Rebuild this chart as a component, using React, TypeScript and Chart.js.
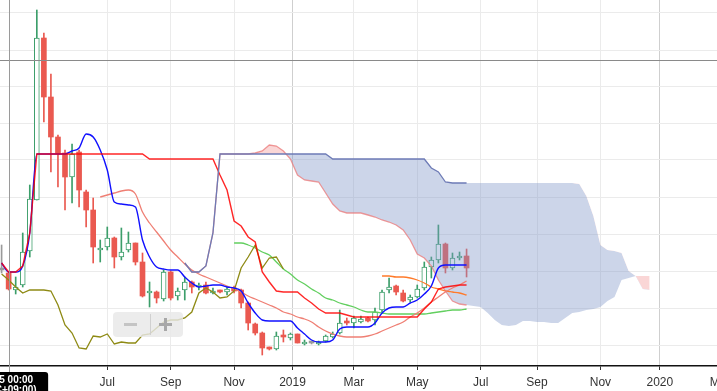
import React, { useEffect, useRef } from "react";
import { Chart, registerables } from "chart.js";

Chart.register(...registerables);
Chart.defaults.font.family = "'Liberation Sans', Arial, sans-serif";

// Weekly candles; week 0 = week starting Sunday 2018-03-18
const opens = [13.0, 12.7, 11.0, 11.5, 14.9, 20.0, 36.2, 30.3, 26.3, 24.7, 22.3, 24.8, 20.8, 19.0, 15.0, 15.3, 16.2, 14.3, 15.0, 15.7, 13.8, 10.7, 10.8, 10.1, 12.8, 10.4, 11.0, 11.8, 11.3, 11.5, 10.7, 10.9, 10.8, 11.2, 11.0, 9.7, 7.6, 6.7, 5.2, 5.1, 6.5, 6.2, 6.6, 5.6, 5.7, 5.6, 5.9, 6.3, 6.7, 7.9, 7.7, 7.8, 8.2, 8.0, 9.0, 11.0, 11.4, 10.7, 10.0, 10.3, 11.2, 13.3, 14.0, 15.6, 13.2, 14.2, 14.4];
const highs = [15.5, 12.8, 12.3, 16.7, 21.5, 39.0, 36.7, 32.6, 26.5, 25.0, 25.6, 25.0, 21.0, 20.2, 16.0, 17.3, 16.3, 17.2, 16.8, 15.7, 14.7, 11.8, 10.9, 13.0, 12.9, 11.2, 12.3, 11.9, 11.7, 11.8, 11.2, 11.0, 11.3, 11.4, 11.1, 9.8, 7.7, 6.8, 5.3, 6.8, 7.0, 6.7, 6.6, 6.0, 5.8, 5.9, 6.5, 6.8, 9.0, 8.2, 8.4, 8.4, 8.3, 9.2, 11.0, 12.2, 11.5, 11.0, 10.5, 11.5, 13.8, 14.3, 17.5, 15.7, 14.7, 14.8, 15.1];
const lows = [12.7, 11.0, 10.6, 11.3, 14.3, 20.0, 27.8, 22.8, 21.3, 19.0, 19.7, 19.3, 17.3, 13.7, 13.8, 15.0, 13.2, 14.0, 14.8, 13.5, 10.3, 9.3, 9.7, 9.9, 10.0, 10.0, 10.0, 10.7, 11.0, 10.6, 10.6, 10.7, 10.5, 10.7, 9.2, 7.0, 6.5, 4.5, 5.0, 5.0, 5.8, 6.0, 5.7, 5.5, 5.6, 5.5, 5.8, 6.2, 6.6, 7.5, 7.2, 7.7, 7.8, 7.5, 8.8, 10.7, 10.5, 9.8, 9.8, 10.2, 11.0, 12.2, 13.7, 12.7, 13.0, 14.0, 12.3];
const closes = [13.0, 11.1, 11.3, 14.8, 20.1, 36.2, 30.3, 26.3, 24.6, 22.3, 24.6, 21.0, 19.0, 15.3, 15.2, 16.2, 14.3, 14.8, 15.7, 13.8, 10.4, 10.8, 10.2, 12.8, 10.2, 10.9, 11.8, 11.3, 11.5, 10.7, 10.9, 10.8, 11.1, 10.9, 9.7, 7.7, 6.7, 5.2, 5.1, 6.4, 6.3, 6.6, 5.7, 5.8, 5.7, 5.8, 6.4, 6.6, 7.7, 7.7, 8.2, 8.1, 7.9, 8.8, 10.8, 11.3, 10.8, 9.9, 10.3, 11.1, 13.3, 14.0, 15.6, 13.2, 14.2, 14.4, 13.2];

// Ichimoku lines (start week of each series)
const tenkan = [13.7, 12.8, 12.8, 13.4, 16.7, 24.6, 24.6, 24.6, 24.6, 24.6, 24.9, 25.2, 26.6, 26.3, 25.0, 23.0, 19.8, 19.6, 19.5, 19.3, 16.0, 14.3, 13.3, 13.1, 13.0, 13.0, 12.3, 11.7, 11.3, 11.4, 11.5, 11.5, 11.3, 11.2, 10.9, 9.7, 8.7, 8.0, 7.9, 7.9, 7.9, 7.9, 7.2, 6.6, 6.0, 5.8, 5.8, 6.0, 7.1, 7.3, 7.3, 7.3, 7.3, 7.7, 8.7, 9.2, 9.3, 9.3, 9.7, 10.0, 10.6, 11.4, 13.2, 13.5, 13.5, 13.5, 13.5];
const kijun = [13.7, 12.8, 12.8, 13.4, 16.7, 24.6, 24.6, 24.6, 24.6, 24.6, 24.6, 24.6, 24.6, 24.6, 24.6, 24.6, 24.6, 24.6, 24.6, 24.6, 24.6, 24.1, 24.1, 24.1, 24.1, 24.1, 24.1, 24.1, 24.1, 24.1, 24.1, 22.5, 21.0, 17.9, 17.4, 16.3, 15.8, 12.8, 11.8, 10.9, 10.8, 10.8, 10.8, 10.2, 9.7, 9.1, 8.7, 8.7, 8.7, 8.5, 8.3, 8.3, 8.3, 8.3, 8.3, 8.3, 8.3, 8.3, 8.3, 8.3, 9.1, 9.8, 11.1, 11.3, 11.4, 11.5, 11.5];
const chikouStart = 0;
const chikou = [12.6, 12.0, 11.3, 10.7, 11.0, 11.0, 11.0, 10.9, 9.5, 7.5, 6.7, 5.2, 5.1, 6.4, 6.3, 6.6, 5.6, 5.8, 5.7, 5.7, 6.5, 6.6, 7.2, 7.8, 8.0, 8.0, 8.2, 8.8, 10.7, 11.2, 10.8, 10.2, 10.3, 10.9, 13.2, 14.3, 15.5, 13.2, 14.2, 14.3, 13.1];
const senkouStart = 26;
const senkouA = [13.7, 12.8, 12.8, 13.4, 16.7, 24.6, 24.6, 24.6, 24.6, 24.6, 24.7, 24.9, 25.5, 25.4, 24.9, 24.1, 22.5, 22.0, 21.9, 21.8, 20.7, 19.6, 18.9, 18.7, 18.7, 18.7, 18.5, 18.3, 18.0, 17.8, 17.5, 17.0, 16.0, 14.6, 14.2, 13.4, 12.0, 10.9, 9.9, 9.6, 9.5, 9.4, 9.3, 8.7, 8.0, 7.5, 7.4, 7.5, 7.9, 7.9, 7.8, 7.8, 7.7, 7.7, 8.2, 8.7, 8.8, 9.0, 9.1, 9.3, 9.9, 10.3, 12.0, 12.2, 12.4, 12.4, 12.4];
const senkouB = [13.7, 12.8, 12.8, 13.4, 16.7, 24.6, 24.6, 24.6, 24.6, 24.6, 24.6, 24.6, 24.6, 24.6, 24.6, 24.6, 24.6, 24.6, 24.6, 24.6, 24.6, 24.1, 24.1, 24.1, 24.1, 24.1, 24.1, 24.1, 24.1, 24.1, 24.1, 24.1, 24.1, 24.1, 24.1, 23.2, 22.8, 21.8, 21.7, 21.7, 21.7, 21.7, 21.7, 21.7, 21.7, 21.7, 21.7, 21.7, 21.7, 21.7, 21.7, 21.7, 21.7, 21.7, 21.7, 21.7, 21.6, 20.4, 18.4, 15.5, 15.0, 14.9, 14.7, 12.9, 12.4, 11.1, 11.0];

// Moving averages
const slowMaStart = 14;
const slowMa = [20.3, 20.5, 20.7, 20.9, 21.0, 20.6, 18.8, 17.7, 16.8, 15.9, 15.0, 14.3, 13.6, 13.0, 12.6, 12.3, 12.0, 11.7, 11.4, 11.1, 10.8, 10.4, 10.1, 9.8, 9.5, 9.2, 8.8, 8.6, 8.3, 8.1, 7.8, 7.3, 6.9, 6.6, 6.4, 6.3, 6.3, 6.3, 6.4, 6.6, 6.9, 7.2, 7.5, 7.8, 8.3, 8.7, 9.2, 9.8, 10.3, 10.8, 11.2, 11.5, 11.9];
const greenMaStart = 33;
const greenMa = [15.7, 15.7, 15.5, 15.2, 14.8, 14.5, 13.8, 13.1, 12.6, 12.0, 11.6, 11.1, 10.7, 10.2, 10.0, 9.7, 9.5, 9.3, 9.0, 8.8, 8.8, 8.7, 8.6, 8.6, 8.6, 8.6, 8.6, 8.6, 8.7, 8.8, 8.9, 9.0, 9.0, 9.1];
const orangeMaStart = 54;
const orangeMa = [12.4, 12.4, 12.3, 12.3, 12.2, 12.0, 11.7, 11.3, 11.1, 10.9, 10.8, 10.7, 10.5];

// Axis
const tickLabels = ["Jul", "Sep", "Nov", "2019", "Mar", "May", "Jul", "Sep", "Nov", "2020", "Mar"];
const tickWeeks = [15, 24, 33, 41.29, 50, 59, 68, 76, 85, 93.43, 102];
const gridValues = [5.5, 9.2, 12.9, 16.6, 20.3, 24.0, 27.7, 31.3, 35.0, 38.7];
const crosshairWeek = 1;
const crosshairValue = 34.0;
const crosshairText = ["2018-03-25 00:00", "(UTC+09:00)"];

const CANVAS_W = 800;
const CANVAS_H = 391;
const CANVAS_LEFT = -20;
const X_MIN = -3.066;
const X_MAX = 110.49;
const Y_MIN = 3.4;
const Y_MAX = 40;

const series = (values: number[], start: number) => values.map((v, i) => ({ x: start + i, y: v }));

const overlayPlugin = {
  id: "overlay",
  afterDatasetsDraw(chart: any) {
    const { ctx, chartArea, scales } = chart;
    const cx = Math.round(scales.x.getPixelForValue(crosshairWeek)) + 0.5;
    const cy = Math.round(scales.y.getPixelForValue(crosshairValue)) + 0.5;
    ctx.save();
    ctx.strokeStyle = "#8a8a8a";
    ctx.lineWidth = 1;
    ctx.beginPath();
    ctx.moveTo(chartArea.left, cy);
    ctx.lineTo(chartArea.right, cy);
    ctx.stroke();
    ctx.strokeStyle = "#9a9a9a";
    ctx.beginPath();
    ctx.moveTo(cx, chartArea.top);
    ctx.lineTo(cx, chartArea.bottom + 8);
    ctx.stroke();
    ctx.restore();
  },
  afterDraw(chart: any) {
    const { ctx, scales } = chart;
    const off = -CANVAS_LEFT;
    ctx.save();
    // zoom buttons
    ctx.fillStyle = "rgba(232,232,232,0.82)";
    ctx.beginPath();
    ctx.roundRect(113 + off, 312, 70, 25, 4);
    ctx.fill();
    ctx.strokeStyle = "rgba(205,205,205,0.9)";
    ctx.lineWidth = 1;
    ctx.beginPath();
    ctx.moveTo(150.5 + off, 314);
    ctx.lineTo(150.5 + off, 335);
    ctx.stroke();
    ctx.fillStyle = "#c4c4c4";
    ctx.fillRect(124 + off, 323, 13, 3);
    ctx.fillStyle = "#a8a8a8";
    ctx.fillRect(159 + off, 323, 13, 3);
    ctx.fillRect(164 + off, 318, 3, 13);
    // crosshair label
    const cx = scales.x.getPixelForValue(crosshairWeek);
    const right = cx + 39.5;
    ctx.fillStyle = "#000";
    ctx.beginPath();
    ctx.roundRect(right - 110, 372, 110, 30, 3);
    ctx.fill();
    ctx.fillStyle = "#fff";
    ctx.font = "bold 10px 'Liberation Sans', Arial, sans-serif";
    ctx.textAlign = "right";
    ctx.textBaseline = "alphabetic";
    ctx.fillText(crosshairText[0], right - 15, 382.5);
    ctx.fillText(crosshairText[1], right - 11.5, 393);
    ctx.restore();
  },
};

export default function App() {
  const ref = useRef<HTMLCanvasElement>(null);
  useEffect(() => {
    const canvas = ref.current;
    if (!canvas) return;
    const up = "#3c9e6a";
    const down = "#ea5950";
    const flat = "#9a9a9a";
    const dir = (i: number) => (closes[i] > opens[i] ? 1 : closes[i] < opens[i] ? -1 : 0);
    const colorOf = (i: number) => (dir(i) > 0 ? up : dir(i) < 0 ? down : flat);
    const idx = opens.map((_, i) => i);
    const last = opens.length - 1;
    const lineBase = { type: "line" as const, pointRadius: 0, order: 0, fill: false };

    const chart = new Chart(canvas, {
      type: "bar",
      data: {
        datasets: [
          { ...lineBase, data: series(senkouB.slice(0, last - senkouStart + 1), senkouStart), borderColor: "#6d7bb6", borderWidth: 1.3, tension: 0 },
          { ...lineBase, data: series(kijun, 0), borderColor: "rgba(255,0,0,0.85)", borderWidth: 1.4, tension: 0 },
          { ...lineBase, data: series(tenkan, 0), borderColor: "#1010ff", borderWidth: 1.4, cubicInterpolationMode: "monotone" },
          { ...lineBase, data: series(chikou, chikouStart), borderColor: "#8e8a14", borderWidth: 1.3, tension: 0 },
          { ...lineBase, data: series(senkouA.slice(0, last - senkouStart + 1), senkouStart), borderColor: "rgba(235,120,120,0.75)", borderWidth: 1.3, tension: 0 },
          { ...lineBase, data: series(slowMa, slowMaStart), borderColor: "#ef7f74", borderWidth: 1.3, cubicInterpolationMode: "monotone" },
          { ...lineBase, data: series(greenMa, greenMaStart), borderColor: "#62cf5f", borderWidth: 1.3, cubicInterpolationMode: "monotone" },
          { ...lineBase, data: series(orangeMa, orangeMaStart), borderColor: "#ff7a2a", borderWidth: 1.3, cubicInterpolationMode: "monotone" },
          {
            type: "line", order: 1, pointRadius: 0, tension: 0, borderWidth: 0, borderColor: "transparent",
            data: series(senkouA, senkouStart),
            fill: { target: 9, above: "rgba(240,120,120,0.3)", below: "rgba(128,150,200,0.4)" },
          },
          { type: "line", order: 1, pointRadius: 0, tension: 0, borderWidth: 0, borderColor: "transparent", fill: false, data: series(senkouB, senkouStart) },
          {
            type: "bar", order: 2, grouped: false, barThickness: 5, minBarLength: 2, borderSkipped: false,
            data: idx.map((i) => ({ x: i, y: [opens[i], closes[i]] })),
            backgroundColor: idx.map((i) => (dir(i) > 0 ? "#ffffff" : colorOf(i))),
            borderColor: idx.map((i) => colorOf(i)),
            borderWidth: idx.map((i) => (dir(i) > 0 ? 1 : 0)),
          },
          {
            type: "bar", order: 3, grouped: false, barThickness: 1, borderSkipped: false,
            data: idx.map((i) => ({ x: i, y: [lows[i], highs[i]] })),
            backgroundColor: idx.map((i) => colorOf(i)),
            borderWidth: 0,
          },
        ] as any,
      },
      options: {
        responsive: false,
        animation: false,
        events: [],
        layout: { padding: 0 },
        plugins: { legend: { display: false }, tooltip: { enabled: false } },
        scales: {
          x: {
            type: "linear", min: X_MIN, max: X_MAX, offset: false, bounds: "data",
            grid: {
              offset: false, drawTicks: true, tickLength: 4, tickColor: "#333",
              color: (c: any) => (/^\d{4}$/.test(tickLabels[c.index] || "") ? "#cfcfcf" : "#ebebeb"),
            },
            border: { display: true, color: "#111", width: 1.5 },
            ticks: { autoSkip: false, maxRotation: 0, minRotation: 0, padding: 5, color: "#333", font: { size: 12 }, callback: (_v: any, i: number) => tickLabels[i] ?? "" },
            afterBuildTicks: (s: any) => { s.ticks = tickWeeks.map((v) => ({ value: v })); },
            afterFit: (s: any) => { s.height = 25; },
          },
          y: {
            type: "linear", min: Y_MIN, max: Y_MAX, beginAtZero: false, bounds: "data",
            grid: { color: "#ebebeb", drawTicks: false },
            border: { display: false },
            ticks: { display: false },
            afterBuildTicks: (s: any) => { s.ticks = gridValues.map((v) => ({ value: v })); },
            afterFit: (s: any) => { s.width = 0; },
          },
        },
      } as any,
      plugins: [overlayPlugin],
    });
    return () => chart.destroy();
  }, []);

  return (
    <div style={{ position: "fixed", left: 0, top: 0, width: 717, height: 391, overflow: "hidden", background: "#fff" }}>
      <canvas
        ref={ref}
        width={CANVAS_W}
        height={CANVAS_H}
        style={{ position: "absolute", left: CANVAS_LEFT, top: 0, width: CANVAS_W, height: CANVAS_H, display: "block" }}
      />
    </div>
  );
}
